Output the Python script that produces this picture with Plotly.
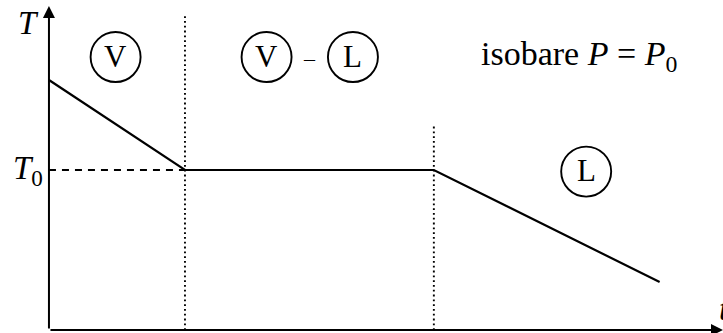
import plotly.graph_objects as go

# Cooling curve of a pure substance at constant pressure
t_curve = [0.0, 1.0, 2.83, 4.49]
T_curve = [1.5625, 1.0, 1.0, 0.30]

T0 = 1.0
t_bounds = [1.0, 2.83]          # start / end of the condensation plateau
bound_tops = [1.97, 1.28]       # upper ends of the dotted separators

# Phase labels (circled) and their positions
phase_labels = ["V", "V", "L", "L"]
phase_t = [0.49, 1.60, 2.235, 3.95]
phase_T = [1.706, 1.706, 1.706, 0.99]

t_max = 4.956
T_min, T_max = -0.01875, 2.0625

SERIF = "Liberation Serif"
black = "black"

fig = go.Figure()

# dashed guide at T0
fig.add_trace(go.Scatter(x=[0, t_bounds[0]], y=[T0, T0], mode="lines",
                         line=dict(color=black, width=2, dash="7px,6px"),
                         hoverinfo="skip"))

# dotted phase boundaries
for tb, top in zip(t_bounds, bound_tops):
    fig.add_trace(go.Scatter(x=[tb, tb], y=[0, top], mode="lines",
                             line=dict(color=black, width=1.9, dash="1.8px,3px"),
                             hoverinfo="skip"))

# the temperature curve
fig.add_trace(go.Scatter(x=t_curve, y=T_curve, mode="lines",
                         line=dict(color=black, width=2.2), hoverinfo="skip"))

shapes = []
annotations = []

# circled phase labels
for lab, tx, ty in zip(phase_labels, phase_t, phase_T):
    shapes.append(dict(type="circle", xref="x", yref="y",
                       xsizemode="pixel", ysizemode="pixel",
                       xanchor=tx, yanchor=ty,
                       x0=-25, x1=25, y0=-25, y1=25,
                       line=dict(color=black, width=1.9)))
    annotations.append(dict(x=tx, y=ty, xref="x", yref="y", text=lab,
                            showarrow=False, yshift=1,
                            font=dict(family=SERIF, size=31, color=black)))

# dash between the two circled labels
annotations.append(dict(x=(phase_t[1] + phase_t[2]) / 2, y=phase_T[1], xref="x", yref="y",
                        text="–", showarrow=False, yshift=-1,
                        font=dict(family=SERIF, size=22, color=black)))

# axes drawn as arrows
annotations.append(dict(x=t_max, y=0, ax=0, ay=0, xref="x", yref="y",
                        axref="x", ayref="y", text="", showarrow=True,
                        arrowhead=2, arrowsize=1.2, arrowwidth=2, arrowcolor=black))
annotations.append(dict(x=0, y=2.025, ax=0, ay=0, xref="x", yref="y",
                        axref="x", ayref="y", text="", showarrow=True,
                        arrowhead=2, arrowsize=1.2, arrowwidth=2, arrowcolor=black))

# axis names
annotations.append(dict(x=0, y=1.92, xref="x", yref="y", text="<i>T</i>",
                        showarrow=False, xanchor="right", xshift=-8,
                        font=dict(family=SERIF, size=33, color=black)))
annotations.append(dict(x=t_max, y=0.13, xref="x", yref="y", text="<i>t</i>",
                        showarrow=False, xanchor="right", xshift=8,
                        font=dict(family=SERIF, size=33, color=black)))
annotations.append(dict(x=0, y=T0, xref="x", yref="y",
                        text="<i>T</i><sub>0</sub>",
                        showarrow=False, xanchor="right", xshift=-4,
                        font=dict(family=SERIF, size=33, color=black)))

# condition of the transformation
annotations.append(dict(x=3.16, y=1.71, xref="x", yref="y",
                        text="isobare <i>P</i> = <i>P</i><sub>0</sub>",
                        showarrow=False, xanchor="left",
                        font=dict(family=SERIF, size=34, color=black)))

fig.update_layout(
    width=723, height=333,
    margin=dict(l=0, r=0, t=0, b=0),
    paper_bgcolor="white", plot_bgcolor="white",
    showlegend=False,
    shapes=shapes, annotations=annotations,
    xaxis=dict(range=[-0.36, t_max], visible=False, fixedrange=True),
    yaxis=dict(range=[T_min, T_max], visible=False, fixedrange=True),
)

fig.write_html("out.html")
